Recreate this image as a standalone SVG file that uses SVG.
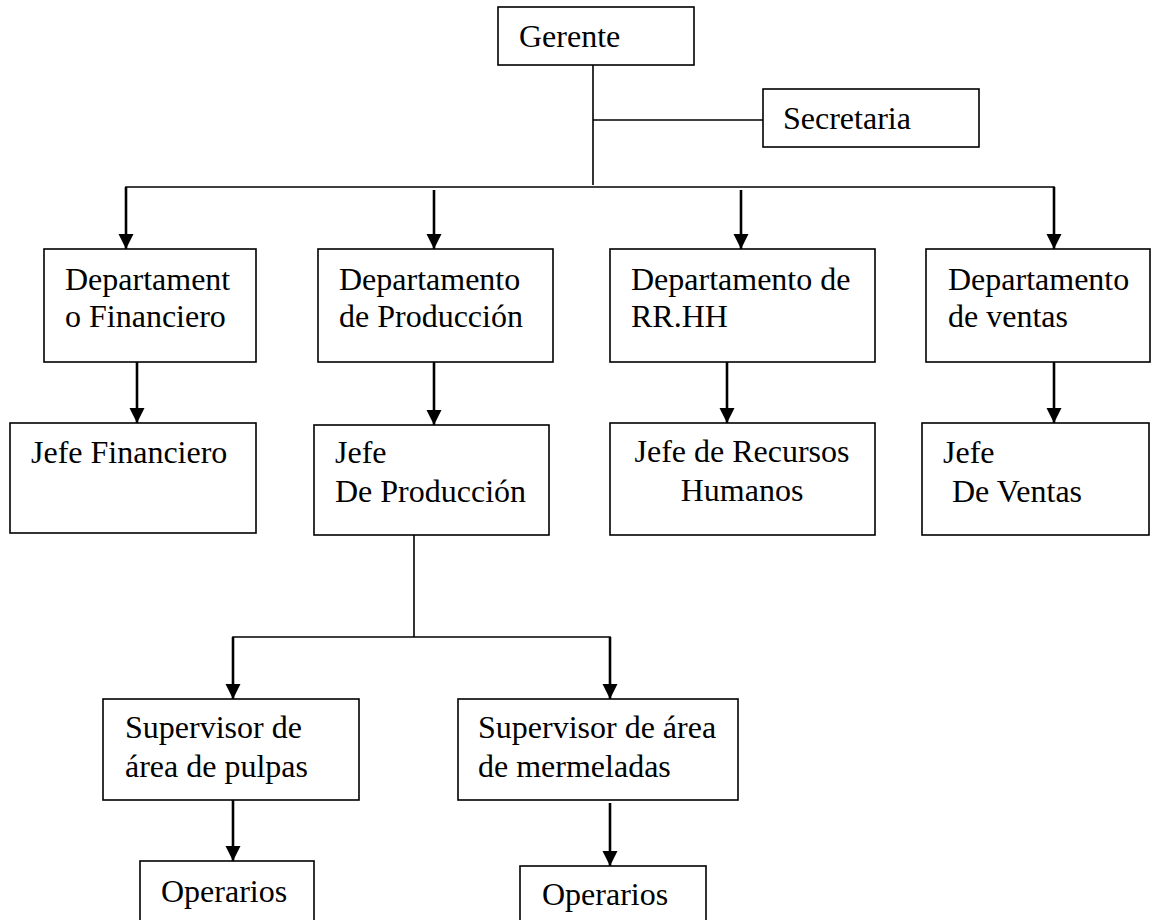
<svg xmlns="http://www.w3.org/2000/svg" width="1152" height="920" viewBox="0 0 1152 920">
<style>
.box{fill:#fff;stroke:#000;stroke-width:1.6}
.t{font-family:"Liberation Serif","Times New Roman",serif;font-size:32px;fill:#000}
.c{text-anchor:middle}
.ln{fill:none;stroke:#000;stroke-width:1.6}
.ar{fill:none;stroke:#000;stroke-width:2.6}
</style>
<defs>
<marker id="ah" markerUnits="userSpaceOnUse" markerWidth="16" markerHeight="16" refX="15" refY="7.5" orient="auto">
<path d="M0,0 L15,7.5 L0,15 z" fill="#000"/>
</marker>
</defs>
<rect width="1152" height="920" fill="#fff"/>
<g id="connectors">
<polyline class="ln" points="593,65 593,185"/>
<polyline class="ln" points="593,120 763,120"/>
<polyline class="ln" points="126,198 126,187 1054,187 1054,198"/>
<line class="ar" x1="126" y1="187" x2="126" y2="249" marker-end="url(#ah)"/>
<line class="ar" x1="434" y1="190" x2="434" y2="249" marker-end="url(#ah)"/>
<line class="ar" x1="741" y1="190" x2="741" y2="249" marker-end="url(#ah)"/>
<line class="ar" x1="1054" y1="187" x2="1054" y2="249" marker-end="url(#ah)"/>
<line class="ar" x1="137" y1="362" x2="137" y2="423" marker-end="url(#ah)"/>
<line class="ar" x1="434" y1="362" x2="434" y2="425" marker-end="url(#ah)"/>
<line class="ar" x1="727" y1="362" x2="727" y2="423" marker-end="url(#ah)"/>
<line class="ar" x1="1054" y1="362" x2="1054" y2="423" marker-end="url(#ah)"/>
<polyline class="ln" points="414,535 414,637"/>
<polyline class="ln" points="233,648 233,637 610,637 610,648"/>
<line class="ar" x1="233" y1="637" x2="233" y2="699" marker-end="url(#ah)"/>
<line class="ar" x1="610" y1="637" x2="610" y2="699" marker-end="url(#ah)"/>
<line class="ar" x1="233" y1="800" x2="233" y2="861" marker-end="url(#ah)"/>
<line class="ar" x1="610" y1="803" x2="610" y2="866" marker-end="url(#ah)"/>
</g>
<g id="gerente"><rect class="box" x="498" y="7" width="196" height="58"/><text class="t" x="519" y="47">Gerente</text></g>
<g id="secretaria"><rect class="box" x="763" y="89" width="216" height="58"/><text class="t" x="783" y="129">Secretaria</text></g>
<g id="dep-fin"><rect class="box" x="44" y="249" width="212" height="113"/><text class="t" x="65" y="290">Departament</text><text class="t" x="65" y="327">o Financiero</text></g>
<g id="dep-prod"><rect class="box" x="318" y="249" width="235" height="113"/><text class="t" x="339" y="290">Departamento</text><text class="t" x="339" y="327">de Producción</text></g>
<g id="dep-rrhh"><rect class="box" x="610" y="249" width="265" height="113"/><text class="t" x="631" y="290">Departamento de</text><text class="t" x="631" y="327">RR.HH</text></g>
<g id="dep-ventas"><rect class="box" x="926" y="249" width="224" height="113"/><text class="t" x="948" y="290">Departamento</text><text class="t" x="948" y="327">de ventas</text></g>
<g id="jefe-fin"><rect class="box" x="10" y="423" width="246" height="110"/><text class="t" x="31" y="463">Jefe Financiero</text></g>
<g id="jefe-prod"><rect class="box" x="314" y="425" width="235" height="110"/><text class="t" x="335" y="463">Jefe</text><text class="t" x="335" y="502">De Producción</text></g>
<g id="jefe-rrhh"><rect class="box" x="610" y="423" width="265" height="112"/><text class="t c" x="742" y="462">Jefe de Recursos</text><text class="t c" x="742" y="501">Humanos</text></g>
<g id="jefe-ventas"><rect class="box" x="922" y="423" width="227" height="112"/><text class="t" x="943" y="463">Jefe</text><text class="t" x="952" y="502">De Ventas</text></g>
<g id="sup-pulpas"><rect class="box" x="103" y="699" width="256" height="101"/><text class="t" x="125" y="738">Supervisor de</text><text class="t" x="125" y="777">área de pulpas</text></g>
<g id="sup-merm"><rect class="box" x="458" y="699" width="280" height="101"/><text class="t" x="478" y="738">Supervisor de área</text><text class="t" x="478" y="777">de mermeladas</text></g>
<g id="oper-1"><rect class="box" x="140" y="861" width="174" height="70"/><text class="t" x="161" y="902">Operarios</text></g>
<g id="oper-2"><rect class="box" x="520" y="866" width="186" height="65"/><text class="t" x="542" y="905">Operarios</text></g>
</svg>
